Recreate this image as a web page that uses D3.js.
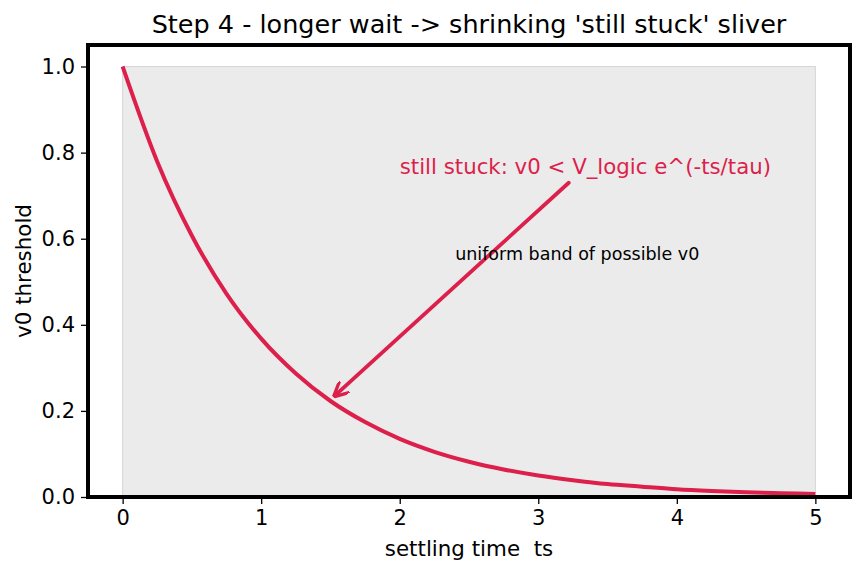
<!DOCTYPE html>
<html>
<head>
<meta charset="utf-8">
<script src="https://cdn.jsdelivr.net/npm/d3@7"></script>
<style>
  body { margin: 0; background: #fff; }
  text { font-family: 'DejaVu Sans', sans-serif; white-space: pre; }
</style>
</head>
<body>
<div id="chart"></div>
<script>
// settling time values and the threshold
const times = [0, 0.25, 0.5, 0.75, 1, 1.25, 1.5, 1.75, 2, 2.25, 2.5, 2.75, 3, 3.25, 3.5, 3.75, 4, 4.25, 4.5, 4.75, 5];
const thresholds = [1.0, 0.779, 0.607, 0.472, 0.368, 0.287, 0.223, 0.174, 0.135, 0.105, 0.082, 0.064, 0.050, 0.039, 0.030, 0.024, 0.018, 0.014, 0.011, 0.009, 0.007];
const bandX = [0, 5];
const bandY = [0, 1];
const xTicks = [0, 1, 2, 3, 4, 5];
const yTicks = [0, 0.2, 0.4, 0.6, 0.8, 1.0];
const arrowFrom = [3.22, 0.73];
const arrowTo = [1.53, 0.235];
const labelPos = [2.0, 0.75];
const bandLabelPos = [2.4, 0.55];

const W = 862, H = 573;
const margin = { top: 45, right: 12, bottom: 76, left: 88 };
const red = '#dc1f4b';

const svg = d3.select('#chart').append('svg')
  .attr('width', W).attr('height', H);

const x = d3.scaleLinear().domain([-0.25, 5.25]).range([margin.left, W - margin.right]);
const y = d3.scaleLinear().domain([0, 1.05]).range([H - margin.bottom, margin.top]);

// band
svg.append('rect')
  .attr('x', x(bandX[0])).attr('y', y(bandY[1]))
  .attr('width', x(bandX[1]) - x(bandX[0]))
  .attr('height', y(bandY[0]) - y(bandY[1]))
  .attr('fill', '#ebebeb')
  .attr('stroke', '#d6d6d6')
  .attr('stroke-width', 1);

// curve
const data = times.map((t, i) => ({ t, v: thresholds[i] }));
svg.append('path')
  .datum(data)
  .attr('fill', 'none')
  .attr('stroke', red)
  .attr('stroke-width', 4)
  .attr('d', d3.line().x(d => x(d.t)).y(d => y(d.v)).curve(d3.curveMonotoneX));

// annotation arrow
const defs = svg.append('defs');
defs.append('marker')
  .attr('id', 'head')
  .attr('viewBox', '0 0 10 10')
  .attr('refX', 9).attr('refY', 5)
  .attr('markerWidth', 4).attr('markerHeight', 4)
  .attr('markerUnits', 'strokeWidth')
  .attr('orient', 'auto')
  .append('path')
  .attr('d', 'M0,0 L10,5 L0,10')
  .attr('fill', 'none')
  .attr('stroke', red)
  .attr('stroke-width', 2.2)
  .attr('stroke-linejoin', 'miter');

svg.append('line')
  .attr('x1', x(arrowFrom[0])).attr('y1', y(arrowFrom[1]))
  .attr('x2', x(arrowTo[0])).attr('y2', y(arrowTo[1]))
  .attr('stroke', red)
  .attr('stroke-width', 3.8)
  .attr('stroke-linecap', 'round')
  .attr('marker-end', 'url(#head)');

svg.append('text')
  .attr('x', x(labelPos[0])).attr('y', y(labelPos[1]))
  .attr('font-size', 21.3)
  .attr('fill', red)
  .text('still stuck: v0 < V_logic e^(-ts/tau)');

svg.append('text')
  .attr('x', x(bandLabelPos[0])).attr('y', y(bandLabelPos[1]))
  .attr('font-size', 17.5)
  .attr('fill', '#000')
  .text('uniform band of possible v0');

// axes
const xAxis = svg.append('g')
  .attr('transform', `translate(0,${H - margin.bottom})`)
  .call(d3.axisBottom(x).tickValues(xTicks).tickFormat(d3.format('d')).tickSize(7).tickPadding(6));
const yAxis = svg.append('g')
  .attr('transform', `translate(${margin.left},0)`)
  .call(d3.axisLeft(y).tickValues(yTicks).tickFormat(d3.format('.1f')).tickSize(7).tickPadding(6));
[xAxis, yAxis].forEach(a => {
  a.select('.domain').remove();
  a.selectAll('line').attr('stroke', '#000').attr('stroke-width', 1.3);
  a.selectAll('text').attr('font-size', 21).attr('fill', '#000')
    .style('font-family', "'DejaVu Sans', sans-serif");
});

// frame
svg.append('rect')
  .attr('x', margin.left).attr('y', margin.top)
  .attr('width', W - margin.left - margin.right)
  .attr('height', H - margin.top - margin.bottom)
  .attr('fill', 'none')
  .attr('stroke', '#000')
  .attr('stroke-width', 4);

// labels
svg.append('text')
  .attr('x', x(2.5)).attr('y', 556)
  .attr('text-anchor', 'middle')
  .attr('font-size', 21.4)
  .text('settling time  ts');

svg.append('text')
  .attr('transform', `translate(31,${y(0.525)}) rotate(-90)`)
  .attr('text-anchor', 'middle')
  .attr('font-size', 21.4)
  .text('v0 threshold');

svg.append('text')
  .attr('x', (margin.left + W - margin.right) / 2).attr('y', 33)
  .attr('text-anchor', 'middle')
  .attr('font-size', 25.5)
  .text("Step 4 - longer wait -> shrinking 'still stuck' sliver");
</script>
</body>
</html>
